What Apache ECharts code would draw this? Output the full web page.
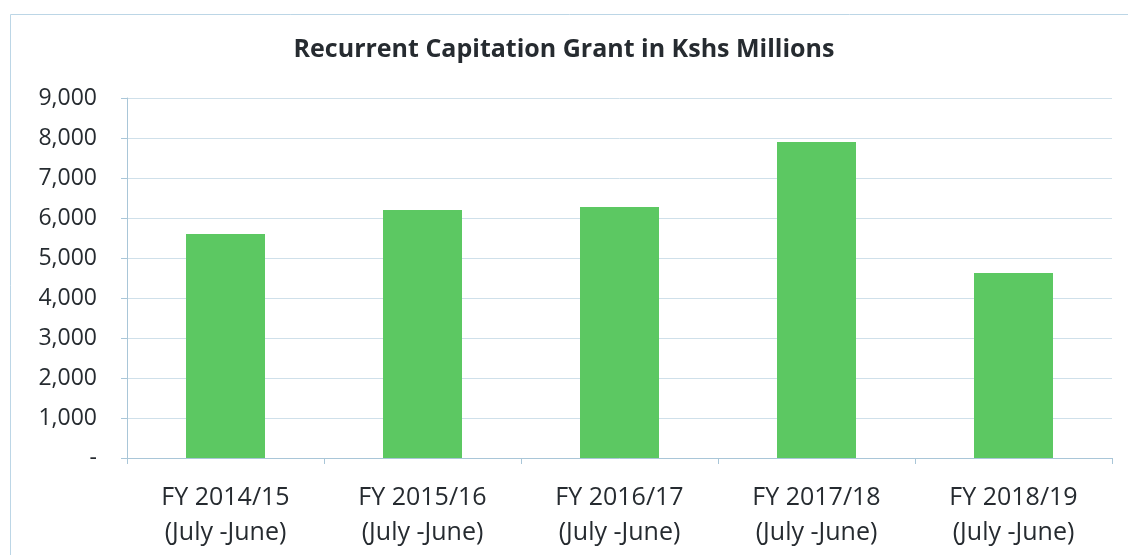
<!DOCTYPE html>
<html>
<head>
<meta charset="utf-8">
<script src="https://cdn.jsdelivr.net/npm/echarts@6/dist/echarts.min.js"></script>
<style>
  html, body { margin: 0; padding: 0; background: #fff; }
  #chart { width: 1128px; height: 555px; }
</style>
</head>
<body>
<div id="chart"></div>
<script>
const categories = [
  'FY 2014/15\n(July -June)',
  'FY 2015/16\n(July -June)',
  'FY 2016/17\n(July -June)',
  'FY 2017/18\n(July -June)',
  'FY 2018/19\n(July -June)'
];
const grantValues = [5600, 6200, 6275, 7900, 4625];
const titleText = 'Recurrent Capitation Grant in Kshs Millions';

const chart = echarts.init(document.getElementById('chart'));
const option = {
  animation: false,
  backgroundColor: '#fff',
  graphic: [{
    type: 'rect',
    left: 8, top: 12,
    shape: { width: 1200, height: 600 },
    style: { fill: 'none', stroke: '#bcd6e6', lineWidth: 1 }
  }],
  title: {
    text: titleText,
    left: 'center',
    top: 32,
    textStyle: {
      fontFamily: 'Open Sans',
      fontWeight: 'bold',
      fontSize: 25,
      color: '#262b30'
    }
  },
  grid: { left: 127, right: 16, top: 98, bottom: 97 },
  xAxis: {
    type: 'category',
    data: categories,
    axisLine: { lineStyle: { color: '#a9c6d8' } },
    axisTick: { show: true, length: 6, lineStyle: { color: '#a9c6d8' } },
    axisLabel: {
      fontFamily: 'Open Sans',
      fontSize: 25,
      color: '#262b30',
      lineHeight: 35,
      margin: 22
    }
  },
  yAxis: {
    type: 'value',
    min: 0, max: 9000, interval: 1000,
    axisLine: { show: true, lineStyle: { color: '#a9c6d8' } },
    axisTick: { show: true, length: 6, lineStyle: { color: '#a9c6d8' } },
    splitLine: { lineStyle: { color: '#cfe0ea' } },
    axisLabel: {
      fontFamily: 'Open Sans',
      fontSize: 23,
      color: '#262b30',
      margin: 30,
      formatter: function (v) { return v === 0 ? '-' : v.toLocaleString('en-US'); }
    }
  },
  series: [{
    type: 'bar',
    data: grantValues,
    barWidth: 79,
    itemStyle: { color: '#5cc862' }
  }]
};
chart.setOption(option);
</script>
</body>
</html>
